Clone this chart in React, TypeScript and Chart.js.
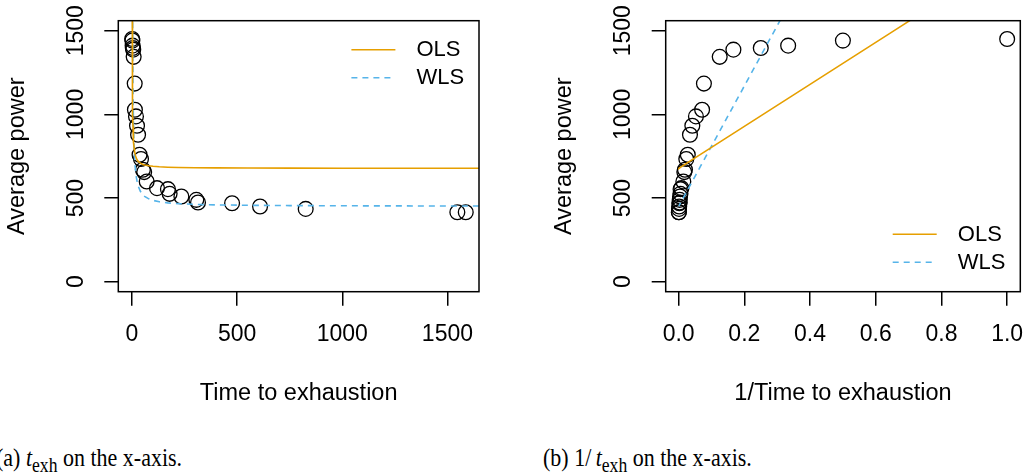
import React, { useEffect, useRef } from "react";
import { Chart, registerables } from "chart.js";

Chart.register(...registerables);

// ---- data ----
const timeToExhaustion = [1, 2, 3, 4, 6, 8, 13, 14, 19, 24, 29, 36, 43, 52, 58, 70, 119, 171, 179, 235, 306, 314, 476, 609, 826, 1547, 1587];
const averagePower = [1451, 1441, 1411, 1397, 1387, 1344, 1184, 1028, 988, 932, 878, 759, 733, 669, 655, 599, 559, 553, 525, 509, 489, 473, 469, 449, 435, 415, 415];

// fitted models P = a + b / t  (intercept, slope on 1/t)
const olsCoef = [677, 1256];
const wlsCoef = [450, 3600];
const fitGridT = [1, 1.25, 1.5, 2, 2.5, 3, 3.5, 4, 5, 6, 7, 8, 10, 12, 15, 20, 25, 30, 40, 50, 60, 80, 100, 130, 170, 220, 300, 400, 550, 750, 1000, 1300, 1700];

const yTicks = [0, 500, 1000, 1500];
const yTickLabels = ["0", "500", "1000", "1500"];
const xTicksA = [0, 500, 1000, 1500];
const xTickLabelsA = ["0", "500", "1000", "1500"];
const xTicksB = [0, 0.2, 0.4, 0.6, 0.8, 1.0];
const xTickLabelsB = ["0.0", "0.2", "0.4", "0.6", "0.8", "1.0"];

const legendLabels = ["OLS", "WLS"];

const ORANGE = "#E69F00";
const SKY = "#56B4E9";
const FONT = "'Liberation Sans', Arial, Helvetica, sans-serif";

const boxPlugin = {
  id: "rbox",
  afterDatasetsDraw(chart: any) {
    const { ctx, chartArea: a } = chart;
    ctx.save();
    ctx.strokeStyle = "#000";
    ctx.lineWidth = 1.5;
    ctx.strokeRect(a.left, a.top, a.right - a.left, a.bottom - a.top);
    ctx.restore();
  },
};

const legendPlugin = {
  id: "rlegend",
  afterDraw(chart: any, _args: any, opts: any) {
    const { ctx, chartArea: a } = chart;
    const ys = opts.corner === "top" ? [a.top + 29, a.top + 57] : [a.bottom - 57.4, a.bottom - 29.4];
    const x0 = a.right - 127.6;
    const x1 = a.right - 83.6;
    const tx = a.right - 62.5;
    ctx.save();
    [0, 1].forEach((i) => {
      const ds = chart.data.datasets[i];
      ctx.beginPath();
      ctx.strokeStyle = ds.borderColor;
      ctx.lineWidth = ds.borderWidth;
      ctx.setLineDash(ds.borderDash || []);
      ctx.moveTo(x0, ys[i]);
      ctx.lineTo(x1, ys[i]);
      ctx.stroke();
      ctx.setLineDash([]);
      ctx.fillStyle = "#000";
      ctx.font = `22px ${FONT}`;
      ctx.textAlign = "left";
      ctx.textBaseline = "middle";
      ctx.fillText(legendLabels[i], tx, ys[i] + 0.5);
    });
    ctx.restore();
  },
};

type Spec = {
  left: number;
  width: number;
  padLeft: number;
  padRight: number;
  xMin: number;
  xMax: number;
  xTicks: number[];
  xLabels: string[];
  xTitle: string;
  inverse: boolean;
  legendCorner: "top" | "bottom";
};

const CANVAS_H = 420;

function Panel({ spec }: { spec: Spec }) {
  const ref = useRef<HTMLCanvasElement>(null);
  useEffect(() => {
    const tx = (t: number) => (spec.inverse ? 1 / t : t);
    const points = timeToExhaustion.map((t, i) => ({ x: tx(t), y: averagePower[i] }));
    const ols = fitGridT.map((t) => ({ x: tx(t), y: olsCoef[0] + olsCoef[1] / t }));
    const wls = fitGridT.map((t) => ({ x: tx(t), y: wlsCoef[0] + wlsCoef[1] / t }));

    const grid = {
      display: true,
      drawOnChartArea: false,
      drawTicks: true,
      tickLength: 14,
      color: "#000",
      tickColor: "#000",
      lineWidth: 1.5,
      tickWidth: 1.5,
    };

    const chart = new Chart(ref.current as HTMLCanvasElement, {
      type: "scatter",
      data: {
        datasets: [
          {
            label: "OLS",
            data: ols,
            showLine: true,
            borderColor: ORANGE,
            borderWidth: 1.6,
            pointRadius: 0,
            fill: false,
            clip: 0,
          } as any,
          {
            label: "WLS",
            data: wls,
            showLine: true,
            borderColor: SKY,
            borderWidth: 1.6,
            borderDash: [6, 5],
            pointRadius: 0,
            fill: false,
            clip: 0,
          } as any,
          {
            label: "data",
            data: points,
            showLine: false,
            pointRadius: 7.4,
            pointBorderWidth: 1.3,
            pointBorderColor: "#000",
            pointBackgroundColor: "rgba(0,0,0,0)",
          } as any,
        ],
      },
      options: {
        responsive: false,
        animation: false,
        devicePixelRatio: 1,
        events: [],
        layout: { padding: { left: spec.padLeft, right: spec.padRight, top: 20.7, bottom: 0 } },
        plugins: {
          legend: { display: false },
          tooltip: { enabled: false },
          rlegend: { corner: spec.legendCorner },
        } as any,
        scales: {
          x: {
            type: "linear",
            position: "bottom",
            min: spec.xMin,
            max: spec.xMax,
            afterBuildTicks: (s: any) => {
              s.ticks = spec.xTicks.map((v) => ({ value: v }));
            },
            afterFit: (s: any) => {
              s.height = 128.3;
              s.paddingLeft = 0;
              s.paddingRight = 0;
              s.paddingTop = 0;
              s.paddingBottom = 0;
            },
            grid,
            border: { display: false },
            ticks: {
              color: "#000",
              font: { family: FONT, size: 23, lineHeight: 1.2 },
              padding: 15.5,
              autoSkip: false,
              minRotation: 0,
              maxRotation: 0,
              callback: (_v: any, i: number) => spec.xLabels[i],
            },
            title: {
              display: true,
              text: spec.xTitle,
              color: "#000",
              font: { family: FONT, size: 23.5, lineHeight: 1.2 },
              padding: { top: 0, bottom: 12.5 },
            },
          } as any,
          y: {
            type: "linear",
            position: "left",
            min: -60,
            max: 1560,
            afterBuildTicks: (s: any) => {
              s.ticks = yTicks.map((v) => ({ value: v }));
            },
            afterFit: (s: any) => {
              s.width = 118.3;
              s.paddingLeft = 0;
              s.paddingRight = 0;
              s.paddingTop = 0;
              s.paddingBottom = 0;
            },
            grid,
            border: { display: false },
            ticks: {
              color: "#000",
              font: { family: FONT, size: 23, lineHeight: 1.2 },
              padding: 2,
              autoSkip: false,
              minRotation: 90,
              maxRotation: 90,
              crossAlign: "center",
              callback: (_v: any, i: number) => yTickLabels[i],
            },
            title: {
              display: true,
              text: "Average power",
              color: "#000",
              font: { family: FONT, size: 23.5, lineHeight: 1.2 },
              padding: { top: 3, bottom: 0 },
            },
          } as any,
        },
      },
      plugins: [boxPlugin, legendPlugin],
    } as any);
    return () => chart.destroy();
  }, [spec]);

  return (
    <canvas
      ref={ref}
      width={spec.width}
      height={CANVAS_H}
      style={{ position: "absolute", left: spec.left, top: 0, width: spec.width, height: CANVAS_H }}
    />
  );
}

const specA: Spec = {
  left: 0,
  width: 510,
  padLeft: 0,
  padRight: 31,
  xMin: -65,
  xMax: 1650,
  xTicks: xTicksA,
  xLabels: xTickLabelsA,
  xTitle: "Time to exhaustion",
  inverse: false,
  legendCorner: "top",
};

const specB: Spec = {
  left: 510,
  width: 519,
  padLeft: 37.4,
  padRight: 2.7,
  xMin: -0.0394,
  xMax: 1.04,
  xTicks: xTicksB,
  xLabels: xTickLabelsB,
  xTitle: "1/Time to exhaustion",
  inverse: true,
  legendCorner: "bottom",
};

const captionStyle: React.CSSProperties = {
  position: "absolute",
  top: 444.5,
  fontFamily: "'Liberation Serif', 'Times New Roman', serif",
  fontSize: 25,
  lineHeight: 1,
  whiteSpace: "nowrap",
  color: "#000",
  transform: "scaleX(0.88)",
  transformOrigin: "0 0",
};

export default function App() {
  return (
    <div
      style={{
        position: "absolute",
        left: 0,
        top: 0,
        width: 1029,
        height: 475,
        overflow: "hidden",
        background: "#fff",
      }}
    >
      <Panel spec={specA} />
      <Panel spec={specB} />
      <div style={{ ...captionStyle, left: -4 }}>
        (a) <i>t</i>
        <sub style={{ fontSize: 20 }}>exh</sub> on the x-axis.
      </div>
      <div style={{ ...captionStyle, left: 543 }}>
        (b) 1/&#8201;<i>t</i>
        <sub style={{ fontSize: 20 }}>exh</sub> on the x-axis.
      </div>
    </div>
  );
}
